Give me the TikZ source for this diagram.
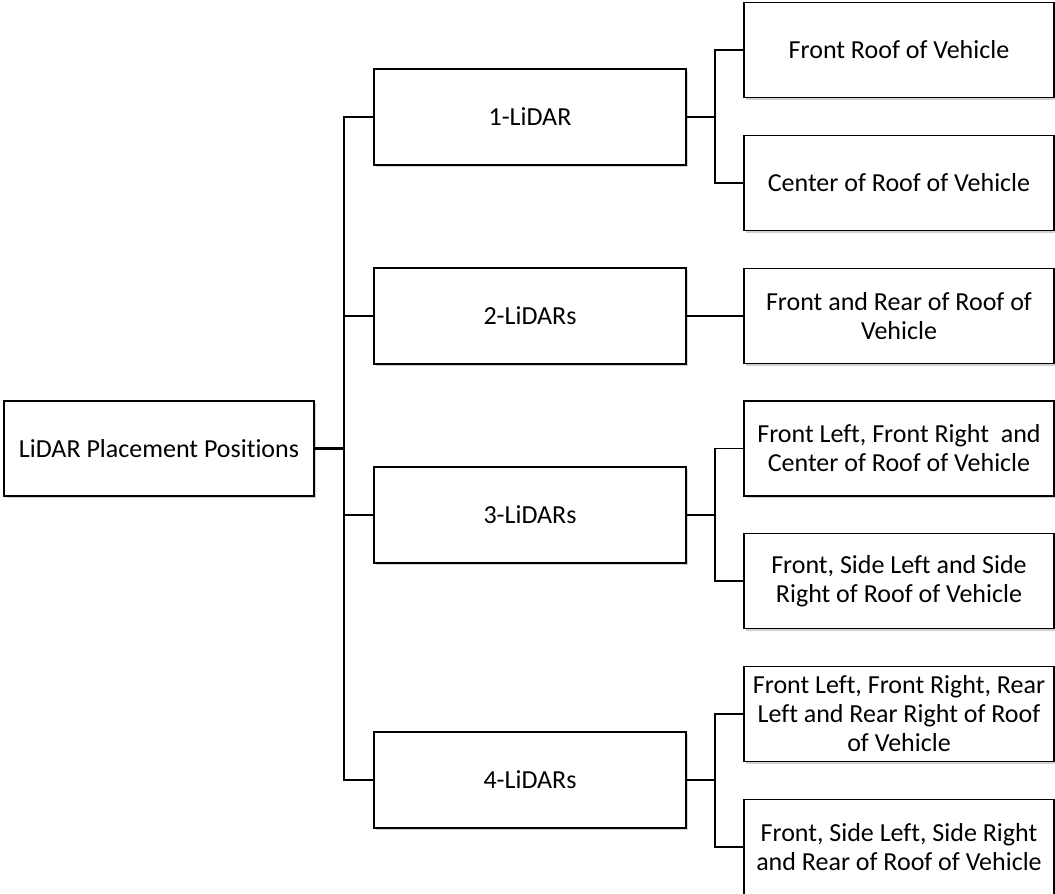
\documentclass[tikz,border=0pt]{standalone}
\usepackage{fontspec}
\setmainfont[Ligatures=NoCommon]{Carlito}
\usetikzlibrary{shadows,calc}
\begin{document}
\begin{tikzpicture}[x=1pt,y=-1pt,
  box/.style={draw=black, line width=1.3pt, fill=white, align=center,
    font=\fontsize{26}{29}\selectfont, inner sep=0pt,
    drop shadow={shadow xshift=1.5pt, shadow yshift=-2pt, opacity=0.3, fill=black!60}},
  rootbox/.style={box, minimum width=310pt, minimum height=95pt},
  midbox/.style={box, minimum width=312pt, minimum height=96pt},
  leafbox/.style={box, minimum width=310pt, minimum height=95pt},
  link/.style={line width=1.5pt, line cap=rect},
  stub/.style={line width=2.2pt}]
\useasboundingbox (0,0) rectangle (1055,894);

% root
\node[rootbox] (root) at (159,448.5) {LiDAR Placement Positions};

% number of sensors
\node[midbox] (m1) at (530,117) {1-LiDAR};
\node[midbox] (m2) at (530,316) {2-LiDARs};
\node[midbox] (m3) at (530,515) {3-LiDARs};
\node[midbox] (m4) at (530,780) {4-LiDARs};

% mounting positions
\node[leafbox] (r1) at (899,50) {Front Roof of Vehicle};
\node[leafbox] (r2) at (899,183) {Center of Roof of Vehicle};
\node[leafbox] (r3) at (899,316) {Front and Rear of Roof of\\Vehicle};
\node[leafbox] (r4) at (899,448.5) {Front Left, Front Right~ and\\Center of Roof of Vehicle};
\node[leafbox] (r5) at (899,581) {Front, Side Left and Side\\Right of Roof of Vehicle};
\node[leafbox] (r6) at (899,714) {Front Left, Front Right, Rear\\Left and Rear Right of Roof\\of Vehicle};
\node[leafbox] (r7) at (899,847) {Front, Side Left, Side Right\\and Rear of Roof of Vehicle};

% trunk from the root to each group
\coordinate (tk) at (344,448.5);
\draw[stub] (root.east) -- (tk);
\draw[link] (m1.west) -- (m1.west -| tk) -- (m4.west -| tk) -- (m4.west);
\draw[link] (m2.west -| tk) -- (m2.west);
\draw[link] (m3.west -| tk) -- (m3.west);

% branches from each group to its positions
\coordinate (bx) at (715,0);
\draw[stub] (m1.east) -- (m1.east -| bx);
\draw[link] (r1.west) -- (r1.west -| bx) -- (r2.west -| bx) -- (r2.west);
\draw[stub] (m2.east) -- (r3.west);
\draw[stub] (m3.east) -- (m3.east -| bx);
\draw[link] (r4.west) -- (r4.west -| bx) -- (r5.west -| bx) -- (r5.west);
\draw[stub] (m4.east) -- (m4.east -| bx);
\draw[link] (r6.west) -- (r6.west -| bx) -- (r7.west -| bx) -- (r7.west);
\end{tikzpicture}
\end{document}
